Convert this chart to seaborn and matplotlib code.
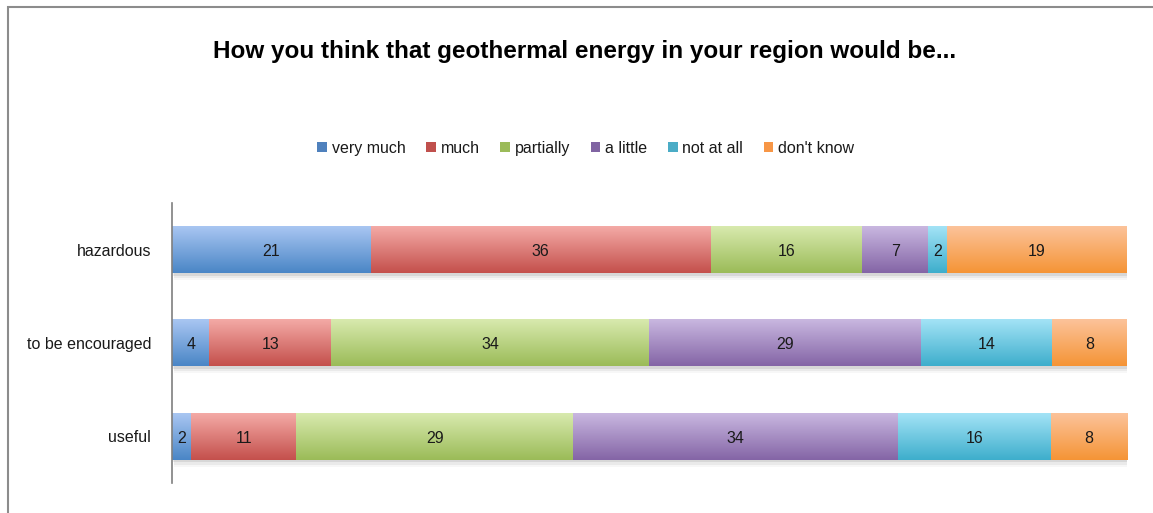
import numpy as np
import pandas as pd
import matplotlib
matplotlib.use("Agg")
import matplotlib.pyplot as plt
import matplotlib.patheffects as pe
from matplotlib.colors import to_rgb
from matplotlib.patches import Rectangle, Patch
import seaborn as sns

# Survey answers per statement
categories = ["hazardous", "to be encouraged", "useful"]
answers = ["very much", "much", "partially", "a little", "not at all", "don't know"]
very_much = [21, 4, 2]
much = [36, 13, 11]
partially = [16, 34, 29]
a_little = [7, 29, 34]
not_at_all = [2, 14, 16]
dont_know = [19, 8, 8]
series = [very_much, much, partially, a_little, not_at_all, dont_know]

# (light top, dark bottom) gradient colours for each answer
grad_top = ["#a9c6f2", "#f4aaa6", "#d8eaae", "#c9b7e0", "#a3e3f6", "#fcc39a"]
grad_bot = ["#4a86c6", "#c4504c", "#9bbb58", "#8465a6", "#3eaecc", "#f59436"]
mid_col = ["#4f81bd", "#c0504d", "#9bbb59", "#8064a2", "#4bacc6", "#f79646"]

sns.set_theme(style="white")
plt.rcParams["font.family"] = ["Liberation Sans", "DejaVu Sans"]

df = pd.DataFrame(dict(zip(answers, series)), index=categories)
totals = df.sum(axis=1)
pct = df.div(totals, axis=0) * 100
cum = pct.cumsum(axis=1)

fig = plt.figure(figsize=(11.53, 5.13), dpi=100)
ax = fig.add_axes([0.1492, 0.0585, 0.9774 - 0.1492, 0.6043 - 0.0585])

# Stacked bars: draw cumulative totals from the outermost segment inward
patch_groups = {}
for i in range(len(answers) - 1, -1, -1):
    n_before = len(ax.patches)
    sns.barplot(x=cum[answers[i]].values, y=categories, orient="h",
                color=mid_col[i], width=0.5, ax=ax, saturation=1,
                linewidth=0, zorder=1)
    patch_groups[i] = ax.patches[n_before:]

# Soft drop shadow under the full-length bars
for p in patch_groups[len(answers) - 1]:
    p.set_path_effects([
        pe.SimplePatchShadow(offset=(1.5, -5), shadow_rgbFace="#000000", alpha=0.03),
        pe.SimplePatchShadow(offset=(1.5, -3.5), shadow_rgbFace="#000000", alpha=0.05),
        pe.SimplePatchShadow(offset=(1, -2), shadow_rgbFace="#000000", alpha=0.08),
        pe.Normal()])

# Vertical gradient fill and value labels for each visible segment
ramp = np.linspace(0, 1, 64)[:, None]
for i, ans in enumerate(answers):
    top = np.array(to_rgb(grad_top[i]))
    bot = np.array(to_rgb(grad_bot[i]))
    img = (top[None, None, :] * (1 - ramp[..., None]) + bot[None, None, :] * ramp[..., None])
    for j, p in enumerate(patch_groups[i]):
        seg = pct.iloc[j][ans]
        x1 = p.get_x() + p.get_width()
        x0 = x1 - seg
        y0 = p.get_y()
        y1 = y0 + p.get_height()
        ax.imshow(img, extent=[x0, x1, y1, y0], aspect="auto", zorder=2,
                  interpolation="bilinear")
        ax.text((x0 + x1) / 2, (y0 + y1) / 2 + 0.02, f"{df.iloc[j][ans]}",
                ha="center", va="center", fontsize=11.5, color="#1a1a1a", zorder=3)

ax.set_xlim(0, 100)
ax.set_ylim(2.5, -0.5)
ax.set_xlabel("")
ax.set_ylabel("")
ax.set_xticks([])
for s in ["top", "right", "bottom"]:
    ax.spines[s].set_visible(False)
ax.spines["left"].set_color("#7f7f7f")
ax.spines["left"].set_linewidth(1.2)
ax.tick_params(axis="y", length=0, pad=15, labelsize=11.5, labelcolor="#1a1a1a")

# Title and legend
fig.text(0.507, 0.9, "How you think that geothermal energy in your region would be...",
         ha="center", va="center", fontsize=17.5, fontweight="bold", color="#000000")
handles = [Patch(facecolor=mid_col[i], edgecolor="none") for i in range(len(answers))]
fig.legend(handles, answers, loc="center", bbox_to_anchor=(0.508, 0.7115), ncol=6,
           frameon=False, fontsize=11.5, handlelength=0.6, handleheight=0.6,
           handletextpad=0.3, columnspacing=1.3, labelcolor="#1a1a1a")

# Chart frame
fig.patches.append(Rectangle((8 / 1153, -0.1), 1.2, 1 - 7 / 513 + 0.1,
                             transform=fig.transFigure, fill=False,
                             edgecolor="#8c8c8c", linewidth=1.5, zorder=0))

fig.savefig("out.png", dpi=100)
